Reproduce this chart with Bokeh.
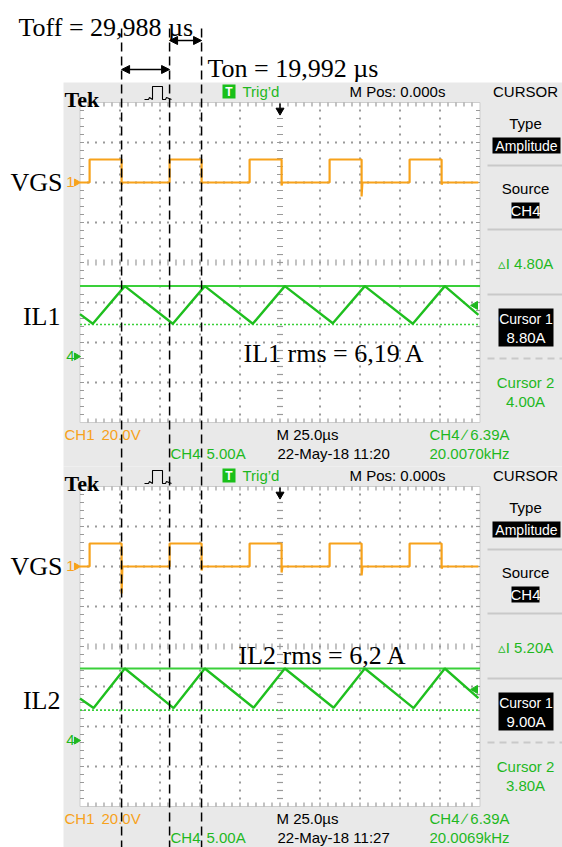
import numpy as np
from bokeh.plotting import figure
from bokeh.models import Range1d, Arrow, NormalHead
from bokeh.core.properties import value
from bokeh.embed import file_html
from bokeh.resources import INLINE

W, H = 562, 847

# ---------------- measured data ----------------
# oscilloscope settings
ch1_volts_per_div = 20.0
ch4_amps_per_div = 5.0
time_per_div_us = 25.0
trigger_level_a = 6.39

# switching times marked above the captures (µs)
toff_us = 29.988
ton_us = 19.992
toff_start_us = 26.0

# gate drive edges (µs) and levels (V); same timing on both captures
gate_rise_us = [6, 56, 106, 156, 206]
gate_fall_us = [26, 76, 126, 176, 226]
gate_high_v = 11.5
gate1_fall_dip_v = [-1.0, -0.5, -1.5, -7.0, -1.0]
gate2_fall_dip_v = [-13.5, -2.0, -3.0, -4.5, -1.0]

# inductor currents: corner times (µs) and values (A)
il1_t_us = [0, 8, 28, 58, 78, 108, 128, 158, 178, 208, 228, 249]
il1_a = [5.3, 4.1, 8.8, 4.1, 8.8, 4.1, 8.8, 4.15, 8.8, 4.1, 8.8, 5.2]
il2_t_us = [0, 8.5, 28, 58.5, 78, 108.5, 128, 158.5, 178, 208.5, 228, 249]
il2_a = [5.25, 4.05, 9.0, 4.05, 9.0, 4.1, 9.0, 4.1, 9.0, 4.05, 9.0, 5.3]

# cursor readings (A)
cursor1_a = [8.80, 9.00]
cursor2_a = [4.00, 3.80]

current_names = ["IL1", "IL2"]
rms_labels = ["IL1 rms = 6,19 A", "IL2 rms = 6,2 A"]
timestamps = ["22-May-18 11:20", "22-May-18 11:27"]
trigger_freqs = ["20.0070kHz", "20.0069kHz"]

# ---------------- styling / layout ----------------
SERIF = "'Liberation Serif', 'Times New Roman', serif"
TEK = "'Liberation Sans Narrow', 'Liberation Sans', sans-serif"
BG = "#e9e9e9"
ORANGE = "#f7a21b"
GREEN_TXT = "#1fb81f"
GREEN_TRACE = "#1fbf1f"
GREEN_CURSOR = "#3ad03a"
GRID = "#9a9a9a"
UI = "15px"

SCOPE_TOP = [82, 466]
SCREEN_X0 = 79.5
DIV = 40
CH1_POS_DIV = 2.0
CH4_POS_DIV = -2.35

p = figure(width=W, height=H, x_range=Range1d(0, W), y_range=Range1d(H, 0),
           x_axis_location=None, y_axis_location=None, min_border=0,
           toolbar_location=None, output_backend="svg",
           outline_line_color=None, background_fill_color="white",
           border_fill_color="white")
p.xgrid.visible = False
p.ygrid.visible = False

px_per_us = DIV / time_per_div_us
p.extra_x_ranges = {"t": Range1d(-SCREEN_X0 / px_per_us, (W - SCREEN_X0) / px_per_us)}


def y_scale(ground_px, px_per_unit):
    return Range1d((ground_px - H) / px_per_unit, ground_px / px_per_unit)


def txt(x, y, s, color="black", size=UI, font=TEK, align="left",
        baseline="middle", style="normal", **kw):
    p.text(x=[x], y=[y], text=[s], text_color=color, text_font=value(font),
           text_font_size=size, text_align=align, text_baseline=baseline,
           text_font_style=style, **kw)


def gate_trace(rise, fall, high, dips, t_end):
    t, v = [0.0], [0.0]
    for r, f, d in zip(rise, fall, dips):
        t += [r, r, f, f, f + 0.5]
        v += [0.0, high, high, d, 0.0]
    t.append(t_end)
    v.append(0.0)
    return t, v


gate_dips = [gate1_fall_dip_v, gate2_fall_dip_v]
il_t = [il1_t_us, il2_t_us]
il_a = [il1_a, il2_a]

for k in range(2):
    oy = SCOPE_TOP[k]
    sy0 = oy + 20
    sy1 = sy0 + 8 * DIV
    sx0, sx1 = SCREEN_X0, SCREEN_X0 + 10 * DIV
    cy = sy0 + 4 * DIV
    cx = sx0 + 5 * DIV
    g1 = cy - CH1_POS_DIV * DIV
    g4 = cy - CH4_POS_DIV * DIV
    vr, ar = f"vgs{k}", f"il{k}"
    p.extra_y_ranges[vr] = y_scale(g1, DIV / ch1_volts_per_div)
    p.extra_y_ranges[ar] = y_scale(g4, DIV / ch4_amps_per_div)

    # instrument body and screen
    p.quad(left=63, right=W, top=oy, bottom=oy + 384, fill_color=BG, line_color=None)
    p.quad(left=sx0, right=sx1, top=sy0, bottom=sy1, fill_color="white",
           line_color="#cdcdcd", line_width=1)

    # graticule dots on the division lines
    minor = np.arange(1, 40) * 8
    minor_x = np.arange(1, 50) * 8
    dx, dy = [], []
    for i in range(1, 10):
        if i == 5:
            continue
        dx += [sx0 + i * DIV] * len(minor)
        dy += list(sy0 + minor)
    for j in range(1, 8):
        if j == 4:
            continue
        dx += list(sx0 + minor_x)
        dy += [sy0 + j * DIV] * len(minor_x)
    p.scatter(dx, dy, marker="square", size=2, color=GRID, line_color=None)

    # tick marks on centre lines and borders
    ys = sy0 + minor
    xs = sx0 + minor_x
    p.segment(x0=[cx - 3] * len(ys), x1=[cx + 3] * len(ys), y0=ys, y1=ys, color=GRID, line_width=1.2)
    p.segment(x0=xs, x1=xs, y0=[cy - 3] * len(xs), y1=[cy + 3] * len(xs), color=GRID, line_width=1.2)
    p.segment(x0=[sx0] * len(ys), x1=[sx0 + 4] * len(ys), y0=ys, y1=ys, color=GRID, line_width=1.2)
    p.segment(x0=[sx1 - 4] * len(ys), x1=[sx1] * len(ys), y0=ys, y1=ys, color=GRID, line_width=1.2)
    p.segment(x0=xs, x1=xs, y0=[sy0] * len(xs), y1=[sy0 + 4] * len(xs), color=GRID, line_width=1.2)
    p.segment(x0=xs, x1=xs, y0=[sy1 - 4] * len(xs), y1=[sy1] * len(xs), color=GRID, line_width=1.2)

    # cursors
    p.segment(x0=[0], x1=[10 * time_per_div_us], y0=[cursor1_a[k]], y1=[cursor1_a[k]],
              x_range_name="t", y_range_name=ar, color=GREEN_CURSOR, line_width=2)
    p.segment(x0=[0], x1=[10 * time_per_div_us], y0=[cursor2_a[k]], y1=[cursor2_a[k]],
              x_range_name="t", y_range_name=ar, color=GREEN_CURSOR, line_width=1.6,
              line_dash="2 2")

    # traces
    gt, gv = gate_trace(gate_rise_us, gate_fall_us, gate_high_v, gate_dips[k], 249)
    p.line(gt, gv, x_range_name="t", y_range_name=vr, color=ORANGE, line_width=2.2)
    p.line(il_t[k], il_a[k], x_range_name="t", y_range_name=ar, color=GREEN_TRACE,
           line_width=2.4)

    # channel ground markers and trigger markers
    txt(70, 0.5, "1", color=ORANGE, size="15px", align="center", y_range_name=vr)
    p.scatter([76], [0], y_range_name=vr, marker="triangle", angle=-np.pi / 2,
              size=7, color=ORANGE)
    txt(70, 0.1, "4", color=GREEN_TXT, size="15px", align="center", y_range_name=ar)
    p.scatter([76], [0], y_range_name=ar, marker="triangle", angle=-np.pi / 2,
              size=7, color=GREEN_TXT)
    p.scatter([247], [trigger_level_a], x_range_name="t", y_range_name=ar,
              marker="triangle", angle=np.pi / 2, size=8, color=GREEN_TXT)
    p.segment(x0=[cx], x1=[cx], y0=[sy0 + 1], y1=[sy0 + 6], color="black", line_width=1.5)
    p.scatter([cx], [sy0 + 8], marker="inverted_triangle", size=8, color="black")

    # header row
    txt(64, oy + 17, "Tek", size="22px", font=SERIF, style="bold", baseline="alphabetic")
    p.line([144, 148, 149, 152, 152, 162, 162, 165, 166, 171],
           [oy + 17, oy + 17, oy + 15, oy + 17, oy + 4, oy + 4, oy + 17, oy + 17, oy + 15, oy + 17],
           color="black", line_width=1.1)
    p.quad(left=222, right=235, top=oy + 2, bottom=oy + 16, fill_color="#19c019", line_color=None)
    txt(228.5, oy + 9.5, "T", color="white", size="12px", align="center", style="bold")
    txt(242, oy + 9, "Trig\u2019d", color=GREEN_TXT)
    txt(349, oy + 9, "M Pos: 0.000s")
    txt(525, oy + 9, "CURSOR", align="center")

    # side menu
    for sep in (83, 147, 212):
        p.segment(x0=[487], x1=[W], y0=[oy + sep], y1=[oy + sep], color="#c9c9c9", line_width=2)
    p.segment(x0=[487], x1=[W], y0=[oy + 276], y1=[oy + 276], color="#c9c9c9",
              line_width=2, line_dash="7 5")
    txt(525, oy + 41, "Type", align="center")
    p.quad(left=492, right=560, top=oy + 55, bottom=oy + 71, fill_color="black", line_color=None)
    txt(526, oy + 63, "Amplitude", color="white", align="center", size="14px")
    txt(525, oy + 106, "Source", align="center")
    p.quad(left=511, right=539, top=oy + 120, bottom=oy + 136, fill_color="black", line_color=None)
    txt(525, oy + 128, "CH4", color="white", align="center")
    delta = cursor1_a[k] - cursor2_a[k]
    txt(525, oy + 181, f"\u25b5I {delta:.2f}A", color=GREEN_TXT, align="center")
    p.quad(left=498, right=553, top=oy + 226, bottom=oy + 264, fill_color="black", line_color=None)
    txt(525.5, oy + 236, "Cursor 1", color="white", align="center", size="14px")
    txt(525.5, oy + 255, f"{cursor1_a[k]:.2f}A", color="white", align="center")
    txt(525, oy + 300, "Cursor 2", color=GREEN_TXT, align="center")
    txt(525, oy + 319, f"{cursor2_a[k]:.2f}A", color=GREEN_TXT, align="center")

    # status rows
    txt(64, oy + 352, "CH1", color=ORANGE)
    txt(101, oy + 352, f"{ch1_volts_per_div:.1f}V", color=ORANGE)
    txt(276, oy + 352, f"M {time_per_div_us:.1f}\u00b5s")
    txt(429, oy + 352, f"CH4 \u2215 {trigger_level_a:.2f}A", color=GREEN_TXT)
    txt(170, oy + 371, "CH4", color=GREEN_TXT)
    txt(206, oy + 371, f"{ch4_amps_per_div:.2f}A", color=GREEN_TXT)
    txt(277, oy + 371, timestamps[k])
    txt(429, oy + 371, trigger_freqs[k], color=GREEN_TXT)

    # signal names
    txt(62, oy + 100, "VGS", size="26px", font=SERIF, align="right", baseline="alphabetic")
    txt(60, oy + 234, current_names[k], size="26px", font=SERIF, align="right",
        baseline="alphabetic")

txt(243, 353, rms_labels[0], size="26px", font=SERIF, baseline="alphabetic")
txt(238, 655, rms_labels[1], size="26px", font=SERIF, baseline="alphabetic")

# switching-time markers across both captures
marks = [toff_start_us, toff_start_us + toff_us, toff_start_us + toff_us + ton_us]
p.segment(x0=marks, x1=marks, y0=[28] * 3, y1=[H] * 3, x_range_name="t",
          color="black", line_width=1.5, line_dash="9 5")
p.add_layout(Arrow(x_start=marks[0], x_end=marks[1], y_start=69, y_end=69,
                   x_range_name="t", line_width=1.5,
                   start=NormalHead(size=8, fill_color="black", line_color="black"),
                   end=NormalHead(size=8, fill_color="black", line_color="black")))
p.add_layout(Arrow(x_start=marks[1], x_end=marks[2], y_start=40, y_end=40,
                   x_range_name="t", line_width=1.5,
                   start=NormalHead(size=8, fill_color="black", line_color="black"),
                   end=NormalHead(size=8, fill_color="black", line_color="black")))
txt(18, 27, f"Toff = {toff_us:.3f} \u00b5s".replace(".", ","), size="26px", font=SERIF,
    baseline="alphabetic")
txt(207, 68, f"Ton = {ton_us:.3f} \u00b5s".replace(".", ","), size="26px", font=SERIF,
    baseline="alphabetic")

open("out.html", "w").write(file_html(p, INLINE))
